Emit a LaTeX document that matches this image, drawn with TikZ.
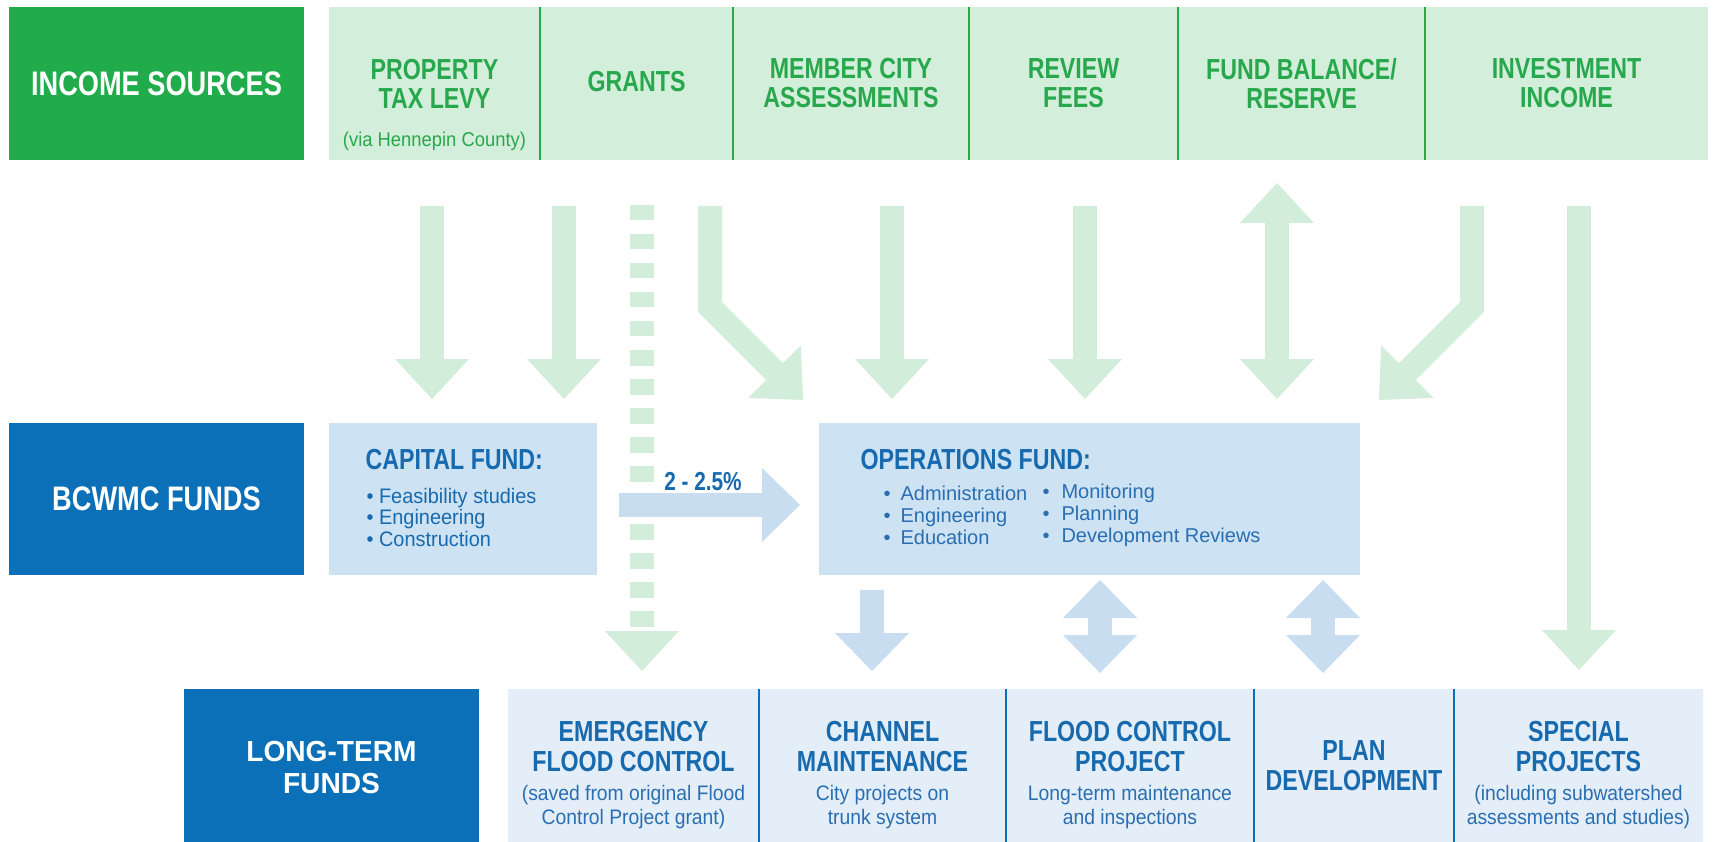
\documentclass[tikz,border=0pt]{standalone}
\usepackage{fontspec}
\setmainfont{Liberation Sans}
\newfontfamily\hdrfont{Liberation Sans}[FakeStretch=0.8]
\newfontfamily\ttlfont{Liberation Sans}[FakeStretch=0.8]
\newfontfamily\ltfont{Liberation Sans}[FakeStretch=0.97]
\newfontfamily\notefont{Liberation Sans}[FakeStretch=0.92]
\newfontfamily\capfont{Liberation Sans}[FakeStretch=0.95]
\usetikzlibrary{arrows.meta}
\definecolor{dgreen}{RGB}{33,172,75}
\definecolor{lgreen}{RGB}{211,238,219}
\definecolor{tgreen}{RGB}{40,168,76}
\definecolor{agreen}{RGB}{210,237,218}
\definecolor{dblue}{RGB}{11,112,183}
\definecolor{lblue}{RGB}{205,226,242}
\definecolor{xblue}{RGB}{227,238,248}
\definecolor{ablue}{RGB}{201,221,240}
\definecolor{tblue}{RGB}{24,106,174}
\definecolor{bblue}{RGB}{42,110,178}
\begin{document}
\begin{tikzpicture}[x=1pt,y=-1pt,
  blk/.style={draw=none,inner sep=0pt,outer sep=0pt,anchor=north west},
  hdr/.style={font=\hdrfont\bfseries\fontsize{34}{36}\selectfont,text=white,align=center},
  ltf/.style={font=\ltfont\bfseries\fontsize{29}{32}\selectfont,text=white,align=center},
  ttl/.style={font=\ttlfont\bfseries\fontsize{29}{29}\selectfont,align=center},
  bttl/.style={font=\ttlfont\bfseries\fontsize{29}{30}\selectfont,align=center,text=tblue},
  topnote/.style={font=\notefont\fontsize{20}{24}\selectfont,align=center,text=tgreen},
  note/.style={font=\notefont\fontsize{21}{24}\selectfont,align=center,text=bblue},
  capl/.style={font=\capfont\fontsize{21}{21.5}\selectfont,align=left,text=tblue,anchor=west},
  opsl/.style={font=\fontsize{20}{22}\selectfont,align=left,text=bblue,anchor=west},
  gdiv/.style={draw=tgreen,line width=2.5pt},
  bdiv/.style={draw=dblue,line width=2.5pt},
  gtip/.tip={Triangle[length=40pt,width=74pt,line width=0pt]},
  btip/.tip={Triangle[length=38pt,width=74pt,line width=0pt]},
  garr/.style={draw=agreen,line width=24pt,line join=miter,-gtip},
  gdbl/.style={draw=agreen,line width=24pt,gtip-gtip},
  barr/.style={draw=ablue,line width=24pt,-btip},
  bdbl/.style={draw=ablue,line width=24pt,btip-btip},
  gdash/.style={draw=agreen,line width=24pt,dash pattern=on 15.5pt off 13.5pt}
]
\useasboundingbox (0,0) rectangle (1719,842);
\fill[white] (0,0) rectangle (1719,842);

% ---------- top row ----------
\node[blk,fill=dgreen,minimum width=295pt,minimum height=153pt] (inc) at (9,7) {};
\node[hdr] (incT) at (inc.center) {INCOME SOURCES};
\node[blk,fill=lgreen,minimum width=211pt,minimum height=153pt] (t1) at (329,7) {};
\node[blk,fill=lgreen,minimum width=193pt,minimum height=153pt] (t2) at (540,7) {};
\node[blk,fill=lgreen,minimum width=236pt,minimum height=153pt] (t3) at (733,7) {};
\node[blk,fill=lgreen,minimum width=209pt,minimum height=153pt] (t4) at (969,7) {};
\node[blk,fill=lgreen,minimum width=247pt,minimum height=153pt] (t5) at (1178,7) {};
\node[blk,fill=lgreen,minimum width=283pt,minimum height=153pt] (t6) at (1425,7) {};
\foreach \c in {t1,t2,t3,t4,t5}{\draw[gdiv] (\c.north east) -- (\c.south east);}
\node[ttl,text=tgreen] (t1T) at (434.5,83.5) {PROPERTY\\TAX LEVY};
\node[topnote] (t1N) at (434.5,141) {(via Hennepin County)};
\node[ttl,text=tgreen] (t2T) at (636.5,82) {GRANTS};
\node[ttl,text=tgreen] (t3T) at (851,83.5) {MEMBER CITY\\ASSESSMENTS};
\node[ttl,text=tgreen] (t4T) at (1073.5,83.5) {REVIEW\\FEES};
\node[ttl,text=tgreen] (t5T) at (1301.5,83.5) {FUND BALANCE/\\RESERVE};
\node[ttl,text=tgreen] (t6T) at (1566.5,83.5) {INVESTMENT\\INCOME};

% ---------- middle row ----------
\node[blk,fill=dblue,minimum width=295pt,minimum height=152pt] (bcw) at (9,423) {};
\node[hdr] (bcwT) at (bcw.center) {BCWMC FUNDS};
\node[blk,fill=lblue,minimum width=268pt,minimum height=152pt] (cap) at (329,423) {};
\node[bttl,anchor=west] (capT) at (362,460) {CAPITAL FUND:};
\node[capl] (capL) at (363,517) {\textbullet\ Feasibility studies\\\textbullet\ Engineering\\\textbullet\ Construction};
\node[blk,fill=lblue,minimum width=541pt,minimum height=152pt] (ops) at (819,423) {};
\node[bttl,anchor=west] (opsT) at (857,460) {OPERATIONS FUND:};
\node[opsl] (opsA) at (880,515) {\textbullet\hspace{10pt}Administration\\\textbullet\hspace{10pt}Engineering\\\textbullet\hspace{10pt}Education};
\node[opsl] (opsB) at (1039,515) {\textbullet\hspace{12pt}Monitoring\\\textbullet\hspace{12pt}Planning\\\textbullet\hspace{12pt}Development Reviews};

% ---------- bottom row ----------
\node[blk,fill=dblue,minimum width=295pt,minimum height=153pt] (ltf) at (184,689) {};
\node[ltf] (ltfT) at (331.5,768) {LONG-TERM\\FUNDS};
\node[blk,fill=xblue,minimum width=251pt,minimum height=153pt] (b1) at (508,689) {};
\node[blk,fill=xblue,minimum width=247pt,minimum height=153pt] (b2) at (759,689) {};
\node[blk,fill=xblue,minimum width=248pt,minimum height=153pt] (b3) at (1006,689) {};
\node[blk,fill=xblue,minimum width=200pt,minimum height=153pt] (b4) at (1254,689) {};
\node[blk,fill=xblue,minimum width=249pt,minimum height=153pt] (b5) at (1454,689) {};
\foreach \c in {b1,b2,b3,b4}{\draw[bdiv] (\c.north east) -- (\c.south east);}
\node[bttl] (b1T) at (633.5,747) {EMERGENCY\\FLOOD CONTROL};
\node[note] (b1N) at (633.5,807) {(saved from original Flood\\Control Project grant)};
\node[bttl] (b2T) at (882.5,747) {CHANNEL\\MAINTENANCE};
\node[note] (b2N) at (882.5,807) {City projects on\\trunk system};
\node[bttl] (b3T) at (1130,747) {FLOOD CONTROL\\PROJECT};
\node[note] (b3N) at (1130,807) {Long-term maintenance\\and inspections};
\node[bttl] (b4T) at (1354,766) {PLAN\\DEVELOPMENT};
\node[bttl] (b5T) at (1578.5,747) {SPECIAL\\PROJECTS};
\node[note] (b5N) at (1578.5,807) {(including subwatershed\\assessments and studies)};

% ---------- arrow end points ----------
\coordinate (a1s) at (432,206);  \coordinate (a1e) at (432,399);
\coordinate (a2s) at (564,206);  \coordinate (a2e) at (564,399);
\coordinate (dls) at (642,205);  \coordinate (dle) at (642,627);
\coordinate (dhs) at (642,631);  \coordinate (dhe) at (642,671);
\coordinate (a4s) at (710,206);  \coordinate (a4b) at (710,307); \coordinate (a4e) at (803,400);
\coordinate (a5s) at (892,206);  \coordinate (a5e) at (892,399);
\coordinate (a6s) at (1085,206); \coordinate (a6e) at (1085,399);
\coordinate (a7s) at (1277,183); \coordinate (a7e) at (1277,399);
\coordinate (a8s) at (1472,206); \coordinate (a8b) at (1472,307); \coordinate (a8e) at (1379,400);
\coordinate (a9s) at (1579,206); \coordinate (a9e) at (1579,670);
\coordinate (hs) at (619,505);   \coordinate (he) at (800,505);
\coordinate (c1s) at (872,590);  \coordinate (c1e) at (872,671);
\coordinate (c2s) at (1100,580); \coordinate (c2e) at (1100,673);
\coordinate (c3s) at (1323,580); \coordinate (c3e) at (1323,673);

% ---------- green arrows ----------
\draw[garr] (a1s) -- (a1e);
\draw[garr] (a2s) -- (a2e);
\draw[gdash] (dls) -- (dle);
\draw[garr] (dhs) -- (dhe);
\draw[garr] (a4s) -- (a4b) -- (a4e);
\draw[garr] (a5s) -- (a5e);
\draw[garr] (a6s) -- (a6e);
\draw[gdbl] (a7s) -- (a7e);
\draw[garr] (a8s) -- (a8b) -- (a8e);
\draw[garr] (a9s) -- (a9e);

% ---------- blue arrows ----------
\draw[barr] (hs) -- (he);
\node[font=\ttlfont\bfseries\fontsize{26}{27}\selectfont,text=tblue] (pct) at (703,482) {2 - 2.5\%};
\draw[barr] (c1s) -- (c1e);
\draw[bdbl] (c2s) -- (c2e);
\draw[bdbl] (c3s) -- (c3e);
\end{tikzpicture}
\end{document}
